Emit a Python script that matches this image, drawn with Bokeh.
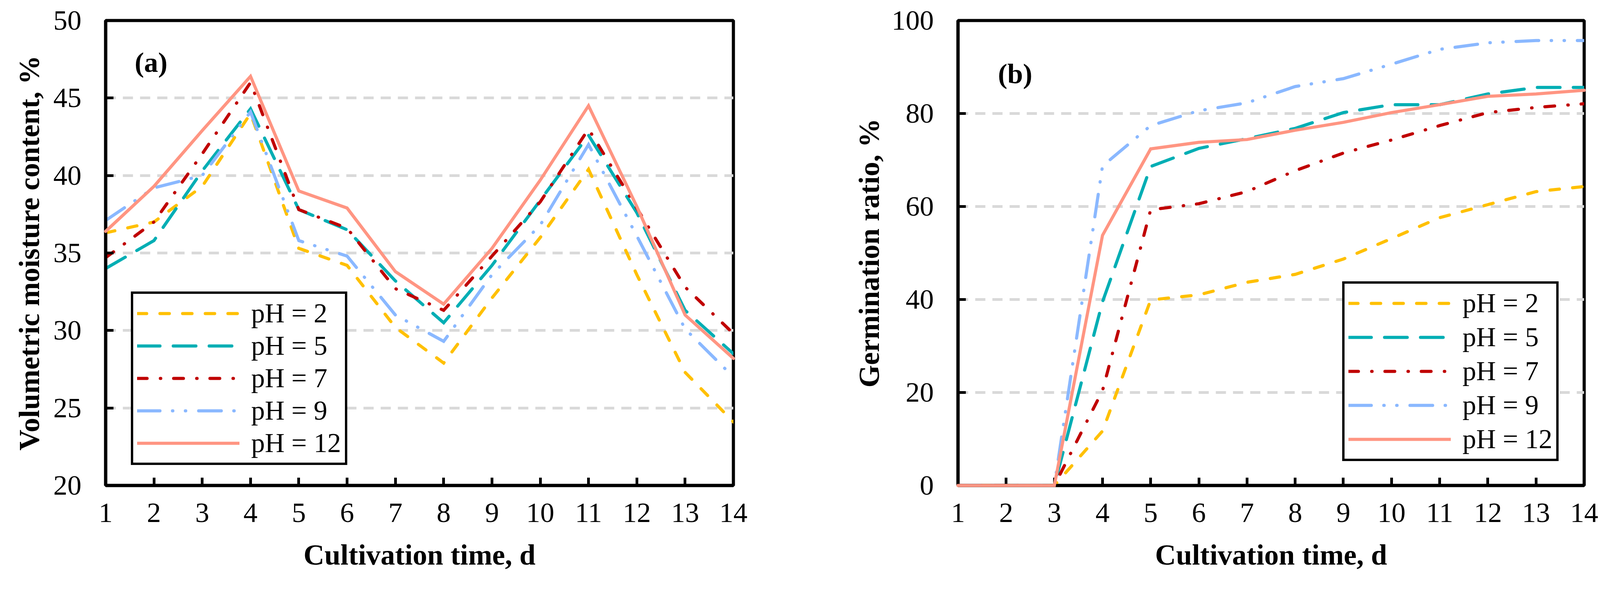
from bokeh.plotting import figure
from bokeh.layouts import row
from bokeh.models import FixedTicker, Legend, LegendItem, Label, Range1d
from bokeh.embed import file_html
from bokeh.resources import INLINE

# ---------------- data ----------------
days = list(range(1, 15))
series_labels = ["pH = 2", "pH = 5", "pH = 7", "pH = 9", "pH = 12"]

# (a) Volumetric moisture content, %
moist_ph2 = [36.3, 37.0, 39.3, 44.0, 35.3, 34.2, 30.2, 27.9, 32.1, 36.0, 40.4, 33.6, 27.3, 24.1]
moist_ph5 = [34.0, 35.8, 40.3, 44.3, 37.8, 36.5, 33.2, 30.5, 34.2, 38.4, 42.6, 37.6, 31.3, 28.5]
moist_ph7 = [34.7, 37.0, 41.4, 46.0, 37.8, 36.6, 32.7, 31.3, 34.8, 38.3, 43.0, 37.9, 32.8, 29.8]
moist_ph9 = [37.1, 39.2, 40.0, 44.1, 35.8, 34.8, 31.0, 29.3, 33.6, 36.8, 42.0, 36.1, 30.1, 27.0]
moist_ph12 = [36.4, 39.3, 42.9, 46.4, 39.0, 37.9, 33.8, 31.7, 35.3, 39.7, 44.5, 38.0, 31.0, 28.2]

# (b) Germination ratio, %
germ_ph2 = [0, 0, 0, 11.7, 39.9, 41.0, 43.7, 45.4, 48.7, 53.1, 57.6, 60.4, 63.2, 64.3]
germ_ph5 = [0, 0, 0, 39.5, 68.6, 72.5, 74.6, 76.8, 80.2, 81.9, 81.9, 84.2, 85.6, 85.6]
germ_ph7 = [0, 0, 0, 20.4, 59.3, 60.6, 63.2, 67.7, 71.5, 74.3, 77.4, 80.2, 81.3, 82.1]
germ_ph9 = [0, 0, 0, 68.7, 77.4, 80.6, 82.3, 85.8, 87.5, 90.6, 93.8, 95.2, 95.7, 95.7]
germ_ph12 = [0, 0, 0, 53.8, 72.4, 73.8, 74.4, 76.4, 78.1, 80.2, 81.9, 83.7, 84.2, 85.0]

x_ticks = list(range(1, 15))
y_ticks_a = [20, 25, 30, 35, 40, 45, 50]
y_ticks_b = [0, 20, 40, 60, 80, 100]

# ---------------- styles ----------------
colors = ["#FFC000", "#00AEB4", "#C00000", "#8AB8FF", "#FF9582"]
dashes = ["24 34", "58 34", "25 34 1 33", "58 32 1 32 1 33", "solid"]
FONT = "Liberation Serif"
LW = 8


def make_panel(width, height, left, right, top, bottom, yr, yticks, ylabel,
               series, tag, tag_xy, leg_loc, leg_spacing, ylabel_standoff):
    p = figure(width=width, height=height, output_backend="svg", toolbar_location=None,
               x_range=Range1d(1, 14), y_range=Range1d(*yr),
               min_border_left=left, min_border_right=right,
               min_border_top=top, min_border_bottom=bottom)
    p.background_fill_color = "white"
    p.border_fill_color = "white"
    p.outline_line_color = "black"
    p.outline_line_width = 8
    p.outline_line_alpha = 1.0

    p.xgrid.visible = False
    p.ygrid.ticker = FixedTicker(ticks=yticks[1:-1])
    p.ygrid.grid_line_color = "#D9D9D9"
    p.ygrid.grid_line_width = 7
    p.ygrid.grid_line_dash = "26 18"

    p.xaxis.ticker = FixedTicker(ticks=x_ticks)
    p.yaxis.ticker = FixedTicker(ticks=yticks)
    for ax in (p.xaxis, p.yaxis):
        ax.axis_line_width = 8
        ax.axis_line_color = "black"
        ax.major_tick_line_width = 7
        ax.major_tick_line_color = "black"
        ax.major_tick_in = 20
        ax.major_tick_out = 0
        ax.minor_tick_line_color = None
        ax.major_label_text_font = FONT
        ax.major_label_text_font_size = "72px"
        ax.major_label_text_color = "black"
        ax.axis_label_text_font = FONT
        ax.axis_label_text_font_size = "74px"
        ax.axis_label_text_font_style = "bold"
        ax.axis_label_text_color = "black"
    p.xaxis.axis_label = "Cultivation time, d"
    p.yaxis.axis_label = ylabel
    p.xaxis.major_label_standoff = 46
    p.yaxis.major_label_standoff = 62
    p.xaxis.axis_label_standoff = 40
    p.yaxis.axis_label_standoff = ylabel_standoff

    items = []
    for vals, col, dash, lab in zip(series, colors, dashes, series_labels):
        r = p.line(days, vals, line_color=col, line_width=LW, line_dash=dash,
                   line_cap="round", line_join="miter")
        if lab == "pH = 12":
            r.level = "overlay"
        items.append(LegendItem(label=lab, renderers=[r]))

    leg = Legend(items=items, location=leg_loc, margin=0, padding=10,
                 spacing=leg_spacing, glyph_width=262, glyph_height=70,
                 label_height=70, label_standoff=30,
                 label_text_font=FONT, label_text_font_size="70px",
                 label_text_color="black",
                 border_line_color="black", border_line_width=6, border_line_alpha=1.0,
                 background_fill_color="white", background_fill_alpha=1.0)
    p.add_layout(leg)

    p.add_layout(Label(x=tag_xy[0], y=tag_xy[1], text=tag, text_font=FONT,
                       text_font_size="72px", text_font_style="bold",
                       text_baseline="middle", text_align="left", text_color="black"))
    return p


pa = make_panel(2142, 1494, 270, 265, 50, 250, (20, 50), y_ticks_a,
                "Volumetric moisture content, %",
                [moist_ph2, moist_ph5, moist_ph7, moist_ph9, moist_ph12],
                "(a)", (1.6, 47.3), (65, 52), 3, 18)
pb = make_panel(1978, 1494, 310, 65, 52, 252, (0, 100), y_ticks_b,
                "Germination ratio, %",
                [germ_ph2, germ_ph5, germ_ph7, germ_ph9, germ_ph12],
                "(b)", (1.83, 88.5), (984, 62), 7, 14)

layout = row(pa, pb)
open("out.html", "w").write(file_html(layout, INLINE))
